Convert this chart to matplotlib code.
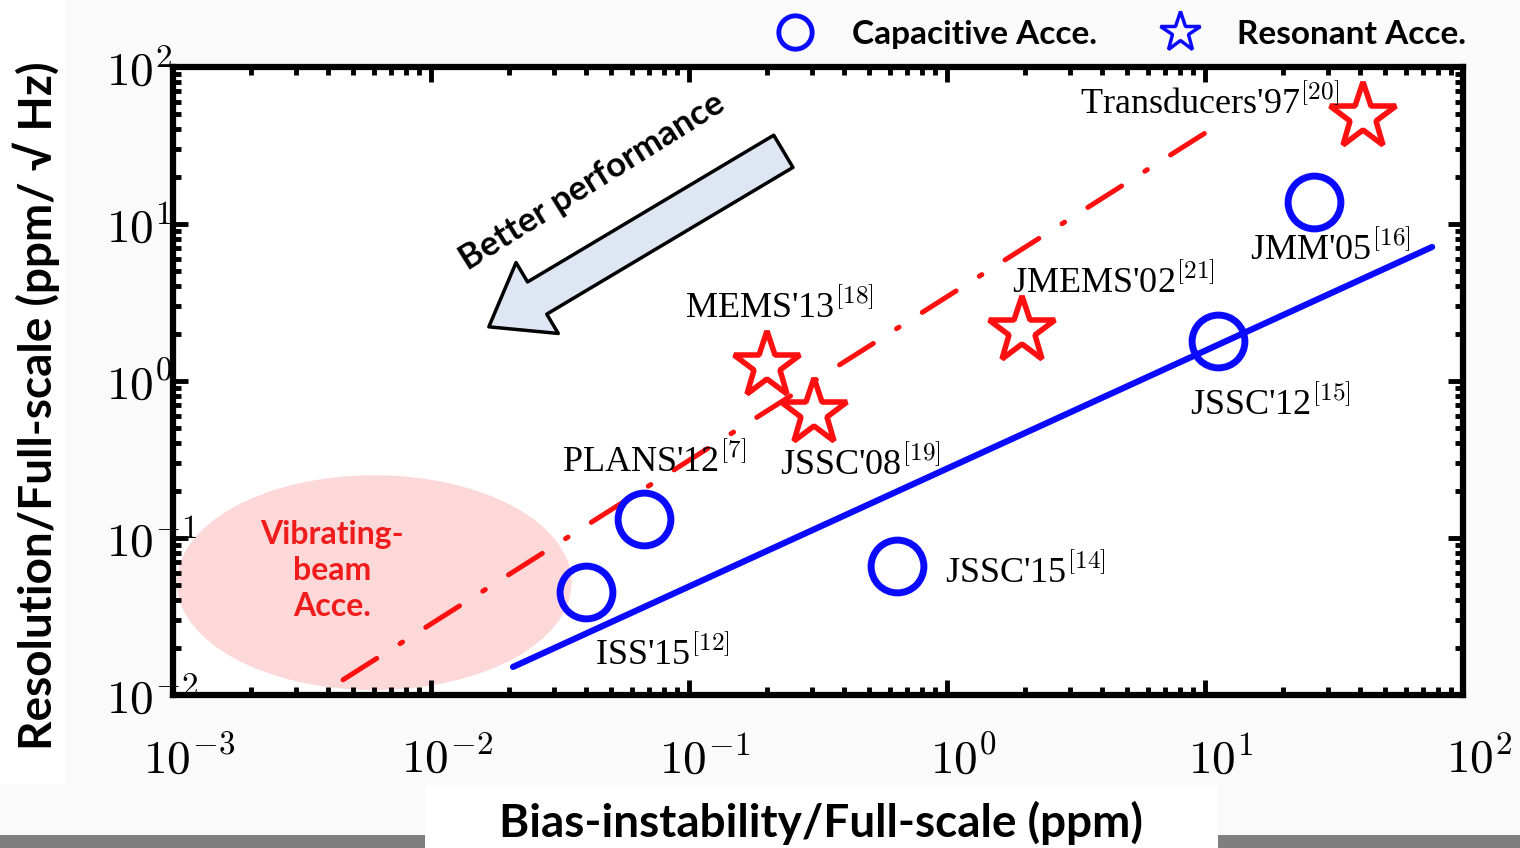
import numpy as np
import matplotlib
matplotlib.use('Agg')
import matplotlib.pyplot as plt
import matplotlib.transforms as mtrans
from matplotlib.patches import Ellipse, Rectangle
from matplotlib.lines import Line2D
from matplotlib.ticker import FuncFormatter

plt.rcParams['font.family'] = ['Liberation Serif', 'DejaVu Serif']
plt.rcParams['mathtext.fontset'] = 'cm'

# capacitive accelerometers (blue circles)
cap_names = ["ISS'15", "PLANS'12", "JSSC'15", "JSSC'12", "JMM'05"]
cap_refs = ['12', '7', '14', '15', '16']
cap_bias = [0.040, 0.067, 0.64, 11.2, 26.4]
cap_res = [0.045, 0.132, 0.066, 1.8, 13.8]

# resonant accelerometers (red stars)
res_names = ["MEMS'13", "JSSC'08", "JMEMS'02", "Transducers'97"]
res_refs = ['18', '19', '21', '20']
res_bias = [0.20, 0.305, 1.95, 41.0]
res_res = [1.25, 0.625, 2.08, 48.0]

# trend lines
blue_x = [0.0208, 75.9]
blue_y = [0.0151, 7.14]
red_x = [0.00456, 10.9]
red_y = [0.0125, 41.5]

# decade ticks
x_decades = [1e-3, 1e-2, 1e-1, 1e0, 1e1, 1e2]
y_decades = [1e-2, 1e-1, 1e0, 1e1, 1e2]

# label offsets in pixels (style only)
cap_off = [(9, -62), (-82, 57), (48, -6), (-28, -64), (-64, -48)]
res_off = [(-82, 58), (-34, -52), (-10, 48), (-283, 13)]

fig = plt.figure(figsize=(15.2, 8.48), dpi=100, facecolor='#fafafa')
ax = fig.add_axes([0.1138, 0.1804, 0.8487, 0.7406])

ax.set_xscale('log')
ax.set_yscale('log')
ax.set_xticks(x_decades)
ax.set_yticks(y_decades)
ax.set_xlim(1e-3, 1e2)
ax.set_ylim(1e-2, 1e2)

# vibrating-beam region (axes-fraction ellipse so it stays elliptical)
ell = Ellipse((0.156, 0.179), width=0.306, height=0.342, transform=ax.transAxes,
              facecolor='#fdd8d8', edgecolor='none', zorder=1)
ax.add_patch(ell)
ax.text(0.123, 0.198, 'Vibrating-\nbeam\nAcce.', transform=ax.transAxes,
        ha='center', va='center', color='#f01c1c', fontsize=23, fontweight='bold',
        family=['Lato', 'DejaVu Sans'], linespacing=1.3, zorder=2)

ax.plot(red_x, red_y, color='#ff1010', lw=3.6, dashes=(8, 5.5, 0.6, 5.5),
        dash_capstyle='round', zorder=3)
ax.plot(blue_x, blue_y, color='#0a0aff', lw=4.5, solid_capstyle='round', zorder=3)

ax.plot(cap_bias, cap_res, 'o', ms=38, mfc='none', mec='#0a0aff', mew=5, zorder=4)
ax.plot(res_bias, res_res, '*', ms=50, mfc='none', mec='#ff1010', mew=4, zorder=4)

for name, ref, x, y, off in zip(cap_names, cap_refs, cap_bias, cap_res, cap_off):
    ax.annotate(name + r'$^{\rm [' + ref + ']}$', (x, y), xytext=off,
                textcoords='offset pixels', ha='left', va='center', fontsize=26, zorder=5)
for name, ref, x, y, off in zip(res_names, res_refs, res_bias, res_res, res_off):
    ax.annotate(name + r'$^{\rm [' + ref + ']}$', (x, y), xytext=off,
                textcoords='offset pixels', ha='left', va='center', fontsize=26, zorder=5)

# better performance arrow
ax.annotate('', xy=(0.243, 0.584), xytext=(0.475, 0.868), xycoords='axes fraction',
            arrowprops=dict(arrowstyle='simple,head_length=1.5,head_width=2.2,tail_width=1.0',
                            mutation_scale=27, facecolor='#dde6f2', edgecolor='black', lw=2.5))
ax.text(0.325, 0.818, 'Better performance', transform=ax.transAxes, rotation=32,
        ha='center', va='center', fontsize=25, fontweight='bold',
        family=['Lato', 'DejaVu Sans'])

for s in ax.spines.values():
    s.set_linewidth(4.5)
fmt = FuncFormatter(lambda v, p: r'$10^{%d}$' % round(np.log10(v)))
ax.xaxis.set_major_formatter(fmt)
ax.yaxis.set_major_formatter(fmt)
ax.tick_params(which='both', direction='in', top=True, right=True, width=3.5,
               labelsize=34)
ax.tick_params(which='major', length=11)
ax.tick_params(which='minor', length=6)
ax.tick_params(axis='x', pad=30)
ax.tick_params(axis='y', pad=2)

# "10" sits on the tick, exponent hangs to the right (like the original)
xshift = mtrans.ScaledTranslation(16 / 100, 0, fig.dpi_scale_trans)
for lab in ax.get_xticklabels():
    lab.set_transform(lab.get_transform() + xshift)
yshift = mtrans.ScaledTranslation(-64 / 100, 0, fig.dpi_scale_trans)
for lab in ax.get_yticklabels():
    lab.set_horizontalalignment('left')
    lab.set_transform(lab.get_transform() + yshift)

# axis titles with white boxes
fig.patches.append(Rectangle((0, 0), 1, 13 / 848, transform=fig.transFigure,
                             facecolor='#7f7f7f', edgecolor='none', zorder=0))
fig.patches.append(Rectangle((425 / 1520, 0), 793 / 1520, 63 / 848, transform=fig.transFigure,
                             facecolor='white', edgecolor='none', zorder=1))
fig.patches.append(Rectangle((0, 63 / 848), 65 / 1520, 785 / 848, transform=fig.transFigure,
                             facecolor='white', edgecolor='none', zorder=1))
fig.text(0.54, 0.03, 'Bias-instability/Full-scale (ppm)', ha='center', va='center',
         fontsize=33, fontweight='bold', family=['Lato', 'DejaVu Sans'])
fig.text(0.024, 0.522, 'Resolution/Full-scale (ppm/ \u221a Hz)', ha='center', va='center',
         rotation=90, fontsize=33, fontweight='bold', family=['Lato', 'DejaVu Sans'])

handles = [Line2D([], [], ls='none', marker='o', ms=24, mfc='none', mec='#0a0aff', mew=3.5),
           Line2D([], [], ls='none', marker='*', ms=30, mfc='none', mec='#0a0aff', mew=2.5)]
fig.legend(handles, ['Capacitive Acce.', 'Resonant Acce.'], loc='upper right',
           bbox_to_anchor=(0.984, 1.012), ncol=2, frameon=False, columnspacing=1.5,
           handletextpad=0.7, prop={'family': ['Lato', 'DejaVu Sans'], 'weight': 'bold', 'size': 24})

fig.savefig('out.png', dpi=100, facecolor=fig.get_facecolor())
